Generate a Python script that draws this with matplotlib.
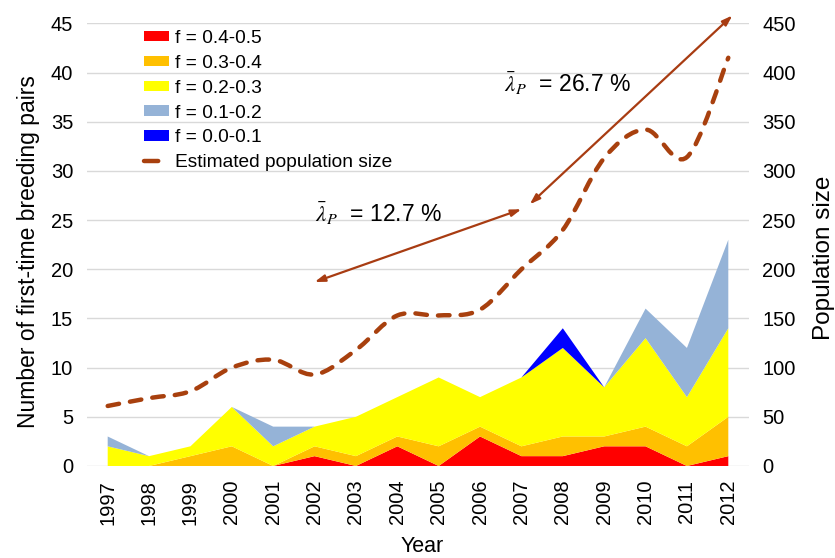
import numpy as np
import matplotlib
matplotlib.use("Agg")
import matplotlib.pyplot as plt
from matplotlib.path import Path
from matplotlib.patches import PathPatch, Patch
from matplotlib.lines import Line2D

plt.rcParams['font.family'] = ['Liberation Sans', 'DejaVu Sans']
plt.rcParams['mathtext.fontset'] = 'stix'

years = list(range(1997, 2013))

# first-time breeding pairs per inbreeding class (stacked)
f_40_50 = [0, 0, 0, 0, 0, 1, 0, 2, 0, 3, 1, 1, 2, 2, 0, 1]
f_30_40 = [0, 0, 1, 2, 0, 1, 1, 1, 2, 1, 1, 2, 1, 2, 2, 4]
f_20_30 = [2, 1, 1, 4, 2, 2, 4, 4, 7, 3, 7, 9, 5, 9, 5, 9]
f_10_20 = [1, 0, 0, 0, 2, 0, 0, 0, 0, 0, 0, 0, 0, 3, 5, 9]
f_00_10 = [0, 0, 0, 0, 0, 0, 0, 0, 0, 0, 0, 2, 0, 0, 0, 0]
class_labels = ['f = 0.4-0.5', 'f = 0.3-0.4', 'f = 0.2-0.3', 'f = 0.1-0.2', 'f = 0.0-0.1']
class_colors = ['#FF0000', '#FFC000', '#FFFF00', '#95B3D7', '#0000FF']

# estimated population size (right axis)
population = [61, 69, 76, 100, 108, 93, 118, 153, 153, 159, 200, 240, 313, 342, 314, 415]

# growth-rate arrows (year, population) and their labels
arrow_early = [(2002.0, 187), (2007.0, 261)]
arrow_late = [(2007.2, 266), (2012.1, 458)]
rate_early = r'$\bar{\lambda}_P$  = 12.7 %'
rate_late = r'$\bar{\lambda}_P$  = 26.7 %'
rate_early_pos = (2002.02, 256)
rate_late_pos = (2006.57, 388)

line_color = '#A8400E'
arrow_color = '#A83C12'

fig = plt.figure(figsize=(8.35, 5.58), dpi=100)
ax = fig.add_axes([0.1042, 0.1649, 0.7928, 0.7933])
ax2 = ax.twinx()

ax.stackplot(years, f_40_50, f_30_40, f_20_30, f_10_20, f_00_10,
             colors=class_colors, labels=class_labels, linewidth=0)

ax.set_xlim(1996.5, 2012.5)
ax.set_ylim(0, 45)
ax.set_yticks(range(0, 50, 5))
ax.set_xticks(years)
ax.set_xticklabels([str(y) for y in years], rotation=90)
ax.grid(axis='y', color='#D9D9D9', linewidth=1.0)
ax.set_axisbelow(True)
ax.tick_params(axis='both', length=0, labelsize=14.5, colors='#000000')
ax.tick_params(axis='x', pad=10)
ax.tick_params(axis='y', pad=10)

ax2.set_ylim(0, 450)
ax2.set_yticks(range(0, 500, 50))
ax2.tick_params(axis='y', length=0, labelsize=14.5, pad=9.5)
for a in (ax, ax2):
    for s in a.spines.values():
        s.set_visible(False)

# smooth (Catmull-Rom style) curve through the population points
pts = np.column_stack([years, population]).astype(float)
verts = [pts[0]]
codes = [Path.MOVETO]
n = len(pts)
for i in range(n - 1):
    p0 = pts[max(i - 1, 0)]
    p1 = pts[i]
    p2 = pts[i + 1]
    p3 = pts[min(i + 2, n - 1)]
    verts += [p1 + (p2 - p0) / 6.0, p2 - (p3 - p1) / 6.0, p2]
    codes += [Path.CURVE4] * 3
curve = PathPatch(Path(verts, codes), fill=False, edgecolor=line_color,
                  linewidth=3.2, linestyle=(0, (2.6, 2.5)), capstyle='round')
ax2.add_patch(curve)

for (p_start, p_end) in (arrow_early, arrow_late):
    ax2.annotate('', xy=p_end, xytext=p_start, annotation_clip=False,
                 arrowprops=dict(arrowstyle='<|-|>,head_length=0.6,head_width=0.2',
                                 color=arrow_color, lw=1.6,
                                 shrinkA=0, shrinkB=0))

ax2.text(rate_early_pos[0], rate_early_pos[1], rate_early, fontsize=16.5, va='center', ha='left')
ax2.text(rate_late_pos[0], rate_late_pos[1], rate_late, fontsize=16.5, va='center', ha='left')

fig.text(29 / 835, 1 - 251.5 / 558, 'Number of first-time breeding pairs',
         rotation=90, fontsize=16.5, ha='center', va='center')
fig.text(824 / 835, 1 - 258 / 558, 'Population size',
         rotation=90, fontsize=17.5, ha='center', va='center')
fig.text(422 / 835, 0.002, 'Year', fontsize=15.5, ha='center', va='bottom')

handles = [Patch(facecolor=c, edgecolor='none') for c in class_colors]
handles.append(Line2D([], [], color=line_color, linewidth=3.2, linestyle=(0, (3.2, 8)),
                      dash_capstyle='round'))
labels = class_labels + ['Estimated population size']
ax2.legend(handles, labels, loc='upper left', bbox_to_anchor=(0.086, 0.985),
           frameon=False, fontsize=13.8, handlelength=1.3, handleheight=0.47,
           handletextpad=0.3, labelspacing=0.41, borderpad=0, borderaxespad=0)

fig.savefig('out.png', dpi=100)
